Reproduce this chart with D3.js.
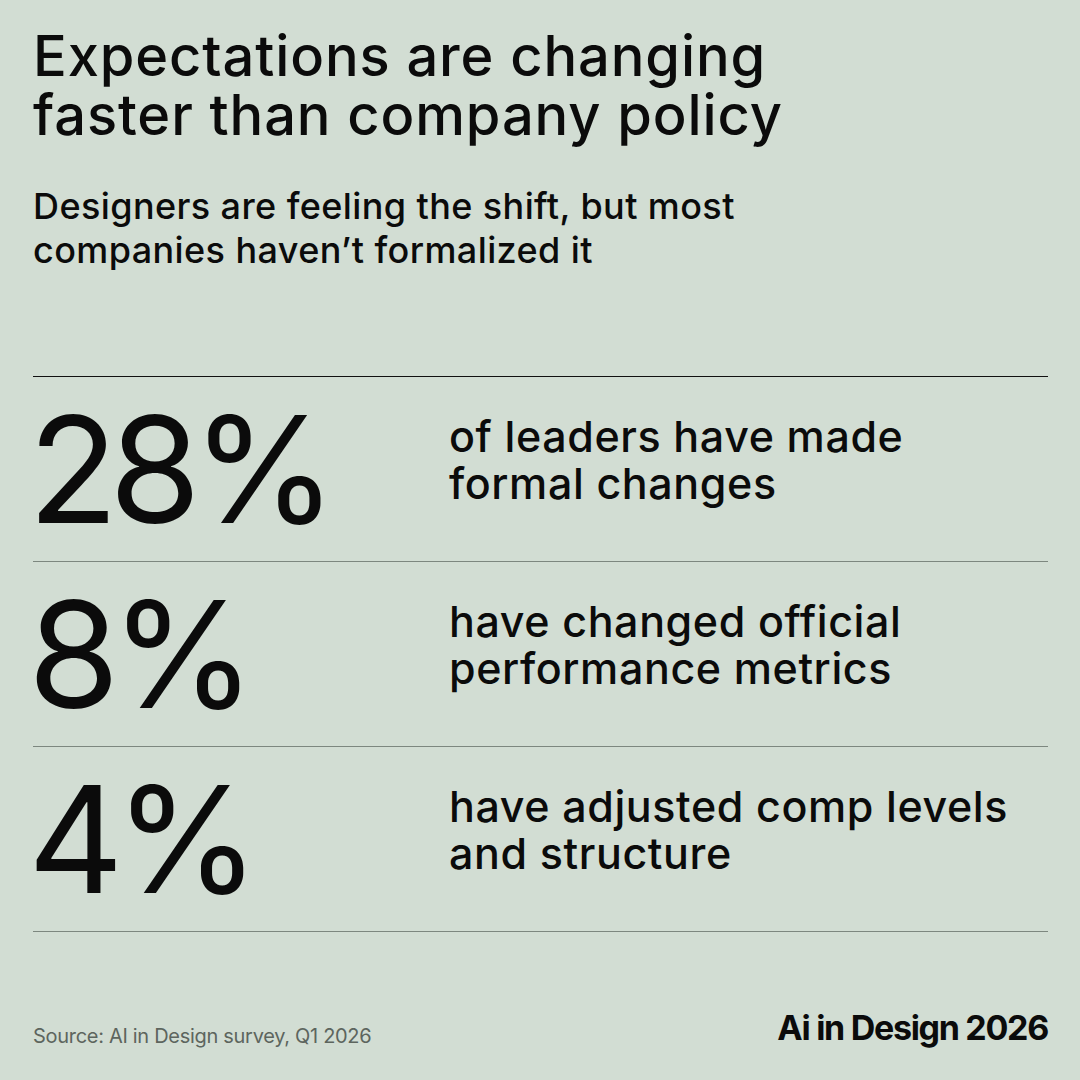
<!DOCTYPE html>
<html>
<head>
<meta charset="utf-8">
<script src="https://cdn.jsdelivr.net/npm/d3@7"></script>
<style>
  html, body { margin: 0; padding: 0; background: #d2ddd3; }
  svg { display: block; }
  text { font-family: Inter, "Noto Sans", sans-serif; fill: #0b0b0b; }
</style>
</head>
<body>
<script>
// chart data
const values = [28, 8, 4];
const labelLines = [
  ["of leaders have made", "formal changes"],
  ["have changed official", "performance metrics"],
  ["have adjusted comp levels", "and structure"]
];
const titleLines = ["Expectations are changing", "faster than company policy"];
const subtitleLines = ["Designers are feeling the shift, but most", "companies haven\u2019t formalized it"];
const sourceText = "Source: AI in Design survey, Q1 2026";
const brandText = "Ai in Design 2026";

const W = 1080, H = 1080;
const left = 33, right = 1048;

const svg = d3.select("body").append("svg")
  .attr("width", W)
  .attr("height", H);

svg.append("rect").attr("width", W).attr("height", H).attr("fill", "#d2ddd3");

// title
svg.append("g").selectAll("text")
  .data(titleLines)
  .join("text")
  .attr("x", left)
  .attr("y", (d, i) => 76 + i * 59)
  .attr("font-size", 56)
  .attr("font-weight", 500)
  .attr("letter-spacing", 0.9)
  .text(d => d);

// subtitle
svg.append("g").selectAll("text")
  .data(subtitleLines)
  .join("text")
  .attr("x", left)
  .attr("y", (d, i) => 219 + i * 44)
  .attr("font-size", 36)
  .attr("font-weight", 500)
  .attr("letter-spacing", 0.4)
  .text(d => d);

// rows
const y = d3.scaleBand()
  .domain(d3.range(values.length))
  .range([376, 931])
  .padding(0);

const rows = svg.append("g").selectAll("g")
  .data(values)
  .join("g")
  .attr("transform", (d, i) => `translate(0,${y(i)})`);

rows.append("line")
  .attr("x1", left).attr("x2", right)
  .attr("y1", 0.5).attr("y2", 0.5)
  .attr("stroke", (d, i) => i === 0 ? "#111" : "#7d877f")
  .attr("stroke-width", 1.2);

rows.append("text")
  .attr("x", 28)
  .attr("y", 147)
  .attr("font-size", 148)
  .attr("letter-spacing", -9)
  .text(d => d + "%");

rows.append("g").selectAll("text")
  .data((d, i) => labelLines[i])
  .join("text")
  .attr("x", 449)
  .attr("y", (d, j) => 76 + j * 47)
  .attr("font-size", 43)
  .attr("font-weight", 500)
  .attr("letter-spacing", 0.6)
  .text(d => d);

// bottom rule
svg.append("line")
  .attr("x1", left).attr("x2", right)
  .attr("y1", y.range()[1] + 0.5).attr("y2", y.range()[1] + 0.5)
  .attr("stroke", "#7d877f")
  .attr("stroke-width", 1.2);

// footer
svg.append("text")
  .attr("x", left)
  .attr("y", 1043)
  .attr("font-size", 20)
  .attr("letter-spacing", -0.3)
  .style("fill", "#5d655e")
  .text(sourceText);

svg.append("text")
  .attr("x", right)
  .attr("y", 1040)
  .attr("text-anchor", "end")
  .attr("font-size", 34)
  .attr("font-weight", 700)
  .attr("letter-spacing", -1.3)
  .text(brandText);
</script>
</body>
</html>
